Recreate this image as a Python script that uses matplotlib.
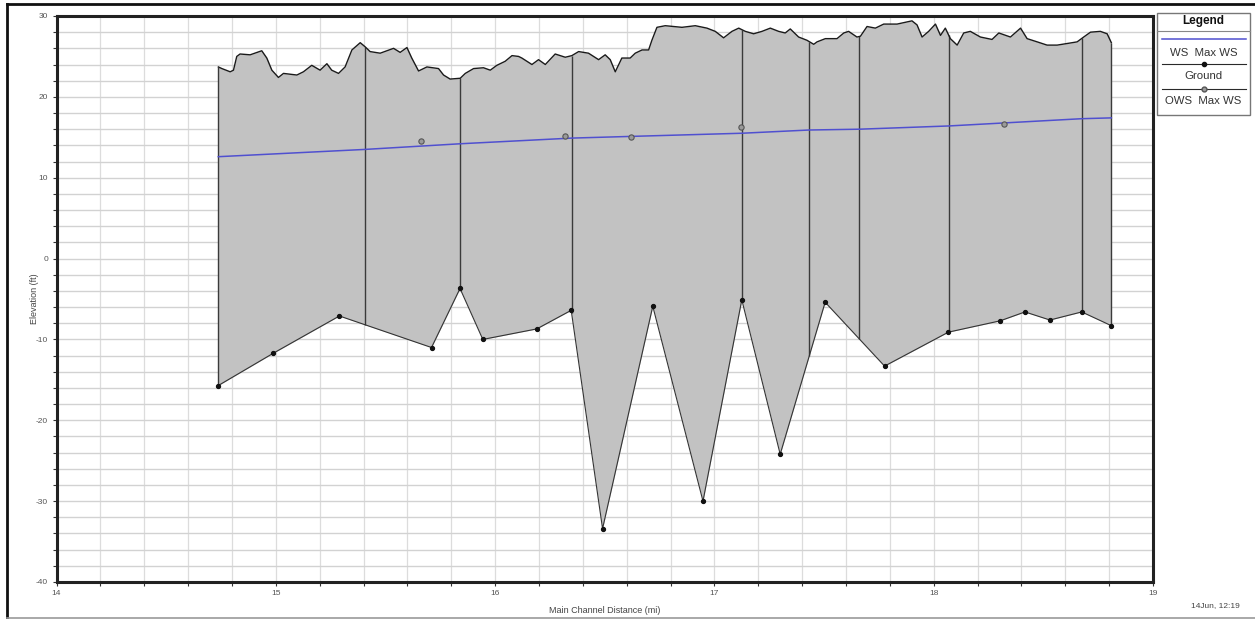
import numpy as np
import matplotlib
matplotlib.use("Agg")
import matplotlib.pyplot as plt
from matplotlib.lines import Line2D
from matplotlib.patches import Rectangle

plt.rcParams['font.family'] = ['Liberation Sans', 'DejaVu Sans']

# ---------------- data ----------------
# Top (bank / terrain) profile, read along the upper edge of the grey area
top_x = [14.738, 14.754, 14.792, 14.807, 14.822, 14.837, 14.883, 14.936, 14.959, 14.982,
         15.012, 15.035, 15.096, 15.126, 15.164, 15.202, 15.233, 15.255, 15.286, 15.316,
         15.347, 15.385, 15.407, 15.430, 15.476, 15.537, 15.567, 15.598, 15.620, 15.651,
         15.689, 15.742, 15.765, 15.795, 15.841, 15.864, 15.902, 15.947, 15.978, 16.008,
         16.046, 16.077, 16.107, 16.122, 16.168, 16.198, 16.229, 16.274, 16.320, 16.350,
         16.381, 16.426, 16.472, 16.502, 16.525, 16.548, 16.578, 16.616, 16.639, 16.670,
         16.700, 16.715, 16.738, 16.776, 16.852, 16.913, 16.966, 17.004, 17.042, 17.080,
         17.111, 17.141, 17.179, 17.217, 17.255, 17.293, 17.323, 17.346, 17.384, 17.422,
         17.453, 17.468, 17.506, 17.559, 17.590, 17.612, 17.650, 17.666, 17.696, 17.734,
         17.772, 17.833, 17.901, 17.924, 17.947, 17.977, 18.008, 18.031, 18.053, 18.076,
         18.107, 18.137, 18.167, 18.213, 18.266, 18.297, 18.350, 18.396, 18.426, 18.472,
         18.517, 18.563, 18.609, 18.654, 18.684, 18.715, 18.760, 18.791, 18.810]
top_y = [23.7, 23.5, 23.1, 23.3, 25.0, 25.3, 25.2, 25.7, 24.8, 23.3,
         22.4, 22.9, 22.7, 23.1, 23.9, 23.3, 24.1, 23.3, 22.9, 23.7,
         25.8, 26.7, 26.2, 25.6, 25.4, 26.0, 25.5, 26.1, 24.8, 23.2,
         23.7, 23.5, 22.7, 22.2, 22.3, 22.9, 23.5, 23.6, 23.3, 23.9,
         24.4, 25.1, 25.0, 24.8, 24.0, 24.6, 24.0, 25.3, 24.9, 25.1,
         25.6, 25.4, 24.6, 25.2, 24.6, 23.1, 24.8, 24.8, 25.4, 25.8,
         25.8, 27.0, 28.6, 28.8, 28.6, 28.8, 28.5, 28.1, 27.3, 28.1,
         28.5, 28.1, 27.8, 28.1, 28.5, 28.1, 27.9, 28.4, 27.4, 27.0,
         26.5, 26.8, 27.2, 27.2, 27.9, 28.1, 27.4, 27.5, 28.7, 28.5,
         29.0, 29.0, 29.4, 28.9, 27.4, 28.1, 29.0, 27.6, 28.5, 27.2,
         26.4, 27.9, 28.1, 27.4, 27.1, 27.9, 27.4, 28.5, 27.2, 26.8,
         26.4, 26.4, 26.6, 26.8, 27.4, 28.0, 28.1, 27.8, 26.7]

# Ground profile points
ground_x = [14.738, 14.989, 15.290, 15.710, 15.840, 15.944, 16.190, 16.347, 16.490, 16.719,
            16.948, 17.125, 17.300, 17.505, 17.776, 18.067, 18.303, 18.416, 18.530, 18.675, 18.810]
ground_y = [-15.7, -11.7, -7.1, -11.0, -3.7, -10.0, -8.7, -6.4, -33.4, -5.9,
            -30.0, -5.1, -24.2, -5.4, -13.3, -9.1, -7.7, -6.6, -7.6, -6.6, -8.3]

# Cross-section locations (vertical lines)
section_x = [14.738, 15.407, 15.842, 16.349, 17.125, 17.432, 17.661, 18.068, 18.676, 18.810]

# WS Max WS (water surface)
ws_x = [14.738, 15.407, 15.842, 16.349, 17.125, 17.432, 17.661, 18.068, 18.676, 18.810]
ws_y = [12.6, 13.5, 14.2, 14.9, 15.5, 15.9, 16.0, 16.4, 17.3, 17.4]

# OWS Max WS markers
ows_x = [15.66, 16.32, 16.62, 17.12, 18.32]
ows_y = [14.5, 15.1, 15.0, 16.3, 16.6]

x_ticks = [14, 15, 16, 17, 18, 19]
y_ticks = [-40, -30, -20, -10, 0, 10, 20, 30]

# ---------------- figure ----------------
W, H = 1255, 619
fig = plt.figure(figsize=(W / 100, H / 100), dpi=100)
fig.patch.set_facecolor('white')

ax = fig.add_axes([56.5 / W, 1 - 582 / H, (1153 - 56.5) / W, (582 - 16) / H])
ax.set_xlim(14, 19)
ax.set_ylim(-40, 30)

# grid
ax.set_xticks(np.arange(14, 19.001, 0.2), minor=True)
ax.set_yticks(np.arange(-40, 30.001, 2), minor=True)
ax.set_xticks(x_ticks)
ax.set_yticks(y_ticks)
ax.set_xticklabels([str(v) for v in x_ticks])
ax.set_yticklabels([str(v) for v in y_ticks])
ax.grid(which='both', axis='y', color='#d2d2d2', lw=1.0, zorder=0)
ax.grid(which='both', axis='x', color='#dcdcdc', lw=0.9, zorder=0)
ax.set_axisbelow(True)
ax.tick_params(which='both', direction='out', length=3, width=0.8, color='#333333',
               labelsize=6, labelcolor='#555555', pad=3)

# fill between top profile and ground
xc = np.union1d(top_x, ground_x)
top_c = np.interp(xc, top_x, top_y)
gr_c = np.interp(xc, ground_x, ground_y)
ax.fill_between(xc, gr_c, top_c, color='#c2c2c2', lw=0, zorder=1)

# section vertical lines
sec_top = np.interp(section_x, top_x, top_y)
sec_bot = np.interp(section_x, ground_x, ground_y)
ax.vlines(section_x, sec_bot, sec_top, color='#3a3a3a', lw=1.0, zorder=2)

# top profile
ax.plot(top_x, top_y, color='#1a1a1a', lw=1.0, zorder=3)

# ground
ax.plot(ground_x, ground_y, color='#333333', lw=0.8, marker='o', ms=2.8,
        mfc='#111111', mec='#111111', zorder=4)

# water surface
ax.plot(ws_x, ws_y, color='#5050d0', lw=1.1, zorder=5)

# OWS markers
ax.plot(ows_x, ows_y, ls='none', marker='o', ms=3.8, mfc='#9a9a9a', mec='#555555',
        mew=0.8, zorder=6)

for s in ax.spines.values():
    s.set_linewidth(2.2)
    s.set_color('#222222')

ax.set_xlabel('Main Channel Distance (mi)', fontsize=6.5, color='#444444', labelpad=6)
ax.set_ylabel('Elevation (ft)', fontsize=6.5, color='#444444', labelpad=-2)

# outer frame
fig.add_artist(Line2D([7 / W, 1.0], [1 - 4 / H, 1 - 4 / H], color='#111111', lw=2.0))
fig.add_artist(Line2D([7 / W, 7 / W], [1 - 4 / H, 1 - 618 / H], color='#111111', lw=2.0))
fig.add_artist(Line2D([7 / W, 1.0], [1 - 618 / H, 1 - 618 / H], color='#999999', lw=1.2))

# legend box
lx0, lx1 = 1157 / W, 1250 / W
ly0, ly1 = 1 - 115 / H, 1 - 13 / H
fig.add_artist(Rectangle((lx0, ly0), lx1 - lx0, ly1 - ly0, transform=fig.transFigure,
                         fill=False, ec='#777777', lw=1.0))
cx = (lx0 + lx1) / 2
fig.text(cx, 1 - 21 / H, 'Legend', ha='center', va='center', fontsize=8.5,
         fontweight='bold', color='#111111')
fig.add_artist(Line2D([lx0, lx1], [1 - 31 / H, 1 - 31 / H], color='#888888', lw=0.8))
sx0, sx1 = 1162 / W, 1246 / W
fig.add_artist(Line2D([sx0, sx1], [1 - 39 / H, 1 - 39 / H], color='#5050d0', lw=1.1))
fig.text(cx, 1 - 53 / H, 'WS  Max WS', ha='center', va='center', fontsize=8.2, color='#333333')
fig.add_artist(Line2D([sx0, sx1], [1 - 64 / H, 1 - 64 / H], color='#2a2a2a', lw=0.8))
fig.add_artist(Line2D([cx], [1 - 64 / H], marker='o', ms=3, mfc='#111111', mec='#111111'))
fig.text(cx, 1 - 76 / H, 'Ground', ha='center', va='center', fontsize=8.2, color='#333333')
fig.add_artist(Line2D([sx0, sx1], [1 - 89 / H, 1 - 89 / H], color='#2a2a2a', lw=0.8))
fig.add_artist(Line2D([cx], [1 - 89 / H], marker='o', ms=3.5, mfc='#9a9a9a', mec='#555555'))
fig.text(cx, 1 - 101 / H, 'OWS  Max WS', ha='center', va='center', fontsize=8.2, color='#333333')

# timestamp
fig.text(1215 / W, 1 - 606 / H, '14Jun, 12:19', ha='center', va='center', fontsize=6,
         color='#444444')

fig.savefig('out.png', dpi=100)
